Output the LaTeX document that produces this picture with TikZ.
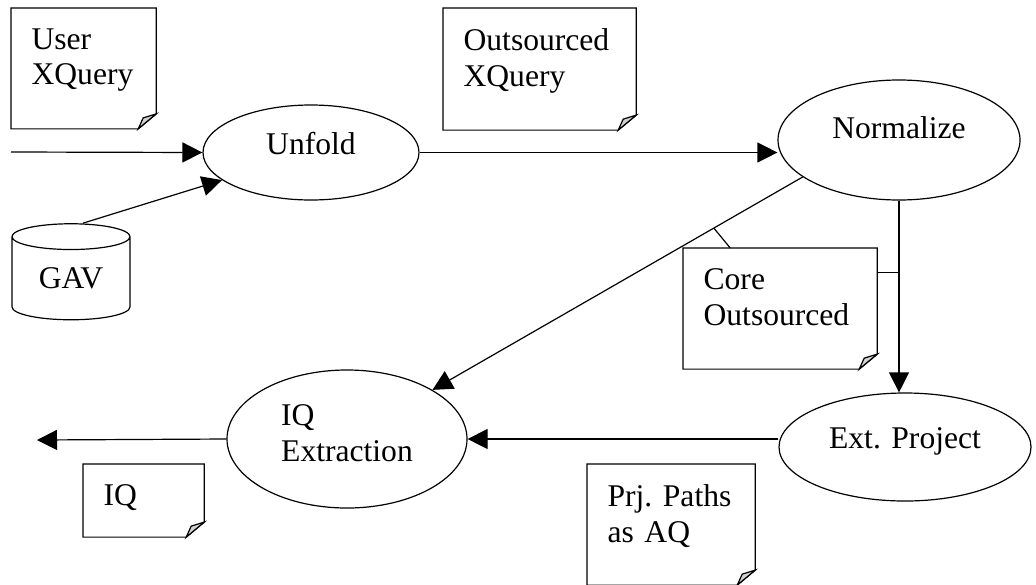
\documentclass[tikz,border=0pt]{standalone}
\usepackage{fontspec}
\setmainfont{Liberation Serif}
\usetikzlibrary{shapes.geometric, arrows.meta}

\begin{document}
\begin{tikzpicture}[x=0.5pt,y=-0.5pt,line width=0.6pt,>={Triangle[length=10pt,width=10pt]},
    font=\fontsize{15.8}{17.8}\selectfont,
    task node/.style={ellipse,draw,inner sep=0pt,text depth=9pt},
    db node/.style={cylinder,shape border rotate=90,draw,aspect=0.4,inner sep=0pt,minimum width=59pt,minimum height=48pt},
    doc node/.style 2 args={anchor=north west,inner xsep=10pt,inner ysep=10pt,align=left,
        text width=#1-20pt,text depth=#2-30.5pt,
        append after command={\pgfextra{
            \draw (\tikzlastnode.north west) -- (\tikzlastnode.north east)
                -- ([yshift=7.5pt]\tikzlastnode.south east) -- ([xshift=-9pt]\tikzlastnode.south east)
                -- (\tikzlastnode.south west) -- cycle;
            \filldraw[fill=gray!35] ([xshift=-9pt]\tikzlastnode.south east)
                -- ([xshift=-6.5pt,yshift=5.5pt]\tikzlastnode.south east)
                -- ([yshift=7.5pt]\tikzlastnode.south east) -- cycle;}}}]

\useasboundingbox (0,0) rectangle (1036,584);

\node[task node,minimum width=108pt,minimum height=47.5pt]               (unfold) at (311,152.5) {Unfold};
\node[task node,minimum width=121pt,minimum height=60pt,text depth=12pt] (norm)   at (899,140)   {Normalize};
\node[task node,minimum width=126pt,minimum height=54pt]                 (ext)    at (905,447)   {Ext. Project};
\node[task node,minimum width=120pt,minimum height=69pt,align=left,text depth=6pt] (iqx) at (347,439) {IQ\\Extraction};
\node[db node]                                                            (gav)    at (71,278.5)  {GAV};

\node[doc node={72pt}{60pt}]     (user) at (11,8)    {User\\XQuery};
\node[doc node={96pt}{60pt}]     (outq) at (443,8)   {Outsourced\\XQuery};
\node[doc node={96.5pt}{60pt}]   (core) at (683,248) {Core\\Outsourced};
\node[doc node={60pt}{36pt}]     (iq)   at (83,464)  {IQ};
\node[doc node={83.5pt}{59.5pt}] (prj)  at (587,464) {Prj.~Paths\\as AQ};

\coordinate (in)  at (11,152);
\coordinate (out) at (37,440);

\path[->]
(in) edge (unfold.west)
([xshift=6pt]gav.north) edge (unfold)
(unfold.east) edge (norm.west |- unfold.east)
(iqx.west) edge (out);

\draw[->] (norm.201) -- coordinate[pos=0.24] (c1) (iqx);
\draw[->] (norm.south) -- coordinate[pos=0.373] (c2) (norm.south |- ext.north);
\draw[->] (ext.west |- iqx) -- (iqx.east);
\draw (c1) -- (core);
\draw (c2) -- (c2 -| core.east);
\end{tikzpicture}
\end{document}
